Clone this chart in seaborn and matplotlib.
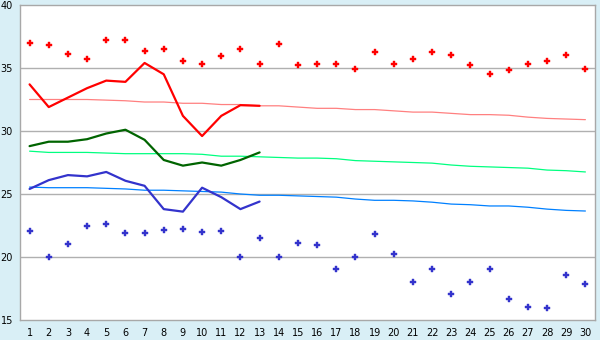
import matplotlib
matplotlib.use("Agg")
import matplotlib.pyplot as plt
import seaborn as sns
import pandas as pd
import numpy as np

days = list(range(1, 31))
record_max = [37.0, 36.8, 36.1, 35.7, 37.2, 37.2, 36.35, 36.5, 35.55, 35.3,
              35.95, 36.5, 35.3, 36.9, 35.25, 35.3, 35.3, 34.9, 36.25, 35.3,
              35.7, 36.25, 36.0, 35.25, 34.5, 34.85, 35.3, 35.55, 36.0, 34.9]
record_min = [22.05, 20.0, 21.05, 22.45, 22.6, 21.9, 21.9, 22.15, 22.2, 21.95,
              22.05, 20.0, 21.5, 20.0, 21.1, 20.95, 19.05, 20.0, 21.85, 20.25,
              18.0, 19.05, 17.05, 18.0, 19.05, 16.65, 16.05, 15.95, 18.55, 17.85]
obs_days = list(range(1, 14))
obs_max = [33.7, 31.9, 32.65, 33.4, 34.0, 33.9, 35.4, 34.5, 31.2, 29.6, 31.2, 32.05, 32.0]
obs_mean = [28.8, 29.15, 29.15, 29.35, 29.8, 30.1, 29.3, 27.7, 27.25, 27.5, 27.25, 27.7, 28.3]
obs_min = [25.4, 26.1, 26.5, 26.4, 26.75, 26.05, 25.65, 23.8, 23.6, 25.5, 24.75, 23.8, 24.4]
norm_max = [32.5, 32.5, 32.5, 32.5, 32.45, 32.4, 32.3, 32.3, 32.2, 32.2,
            32.1, 32.1, 32.0, 32.0, 31.9, 31.8, 31.8, 31.7, 31.7, 31.6,
            31.5, 31.5, 31.4, 31.3, 31.3, 31.25, 31.1, 31.0, 30.95, 30.9]
norm_mean = [28.4, 28.3, 28.3, 28.3, 28.25, 28.2, 28.2, 28.2, 28.2, 28.15,
             28.0, 28.0, 27.95, 27.9, 27.85, 27.85, 27.8, 27.65, 27.6, 27.55,
             27.5, 27.45, 27.3, 27.2, 27.15, 27.1, 27.05, 26.9, 26.85, 26.75]
norm_min = [25.55, 25.5, 25.5, 25.5, 25.45, 25.4, 25.3, 25.3, 25.25, 25.2,
            25.15, 25.0, 24.9, 24.9, 24.85, 24.8, 24.75, 24.6, 24.5, 24.5,
            24.45, 24.35, 24.2, 24.15, 24.05, 24.05, 23.95, 23.8, 23.7, 23.65]
y_ticks = [15, 20, 25, 30, 35, 40]

df_all = pd.DataFrame({"day": days, "rmax": record_max, "rmin": record_min,
                       "nmax": norm_max, "nmean": norm_mean, "nmin": norm_min})
df_obs = pd.DataFrame({"day": obs_days, "omax": obs_max, "omean": obs_mean, "omin": obs_min})

sns.set_style("white")
plt.rcParams['font.family'] = ['DejaVu Sans']

fig = plt.figure(figsize=(6, 3.4), dpi=100, facecolor="#d9eff6")
ax = fig.add_axes([20/600, 1-320/340, 575/600, 315/340])
ax.set_facecolor("white")

for yv in [20, 25, 30, 35]:
    ax.axhline(yv, color="#b0b0b0", lw=1, zorder=0)

sns.lineplot(data=df_all, x="day", y="nmax", ax=ax, color="#ff8080", lw=0.9)
sns.lineplot(data=df_all, x="day", y="nmean", ax=ax, color="#00ff80", lw=0.9)
sns.lineplot(data=df_all, x="day", y="nmin", ax=ax, color="#0080ff", lw=0.9)
sns.lineplot(data=df_obs, x="day", y="omax", ax=ax, color="#ff0000", lw=1.6)
sns.lineplot(data=df_obs, x="day", y="omean", ax=ax, color="#006400", lw=1.6)
sns.lineplot(data=df_obs, x="day", y="omin", ax=ax, color="#3333cc", lw=1.6)
sns.scatterplot(data=df_all, x="day", y="rmax", ax=ax, color="#ff0000", marker="P",
                s=18, linewidth=0.3, edgecolor="#ff0000")
sns.scatterplot(data=df_all, x="day", y="rmin", ax=ax, color="#3333cc", marker="P",
                s=18, linewidth=0.3, edgecolor="#3333cc")

ax.set_xlim(0.5, 30.5)
ax.set_ylim(15, 40)
ax.set_xticks(days)
ax.set_xticklabels([str(d) for d in days])
ax.set_yticks(y_ticks)
ax.set_yticklabels([str(t) for t in y_ticks])
ax.set_xlabel("")
ax.set_ylabel("")
for s in ax.spines.values():
    s.set_color("#a8a8a8")
    s.set_linewidth(1)
ax.tick_params(axis="both", which="both", direction="out", length=4, width=1,
               color="#808080", labelsize=7, labelcolor="#000000", pad=2)
ax.tick_params(axis="y", pad=1)

fig.savefig("out.png", dpi=100, facecolor=fig.get_facecolor())
